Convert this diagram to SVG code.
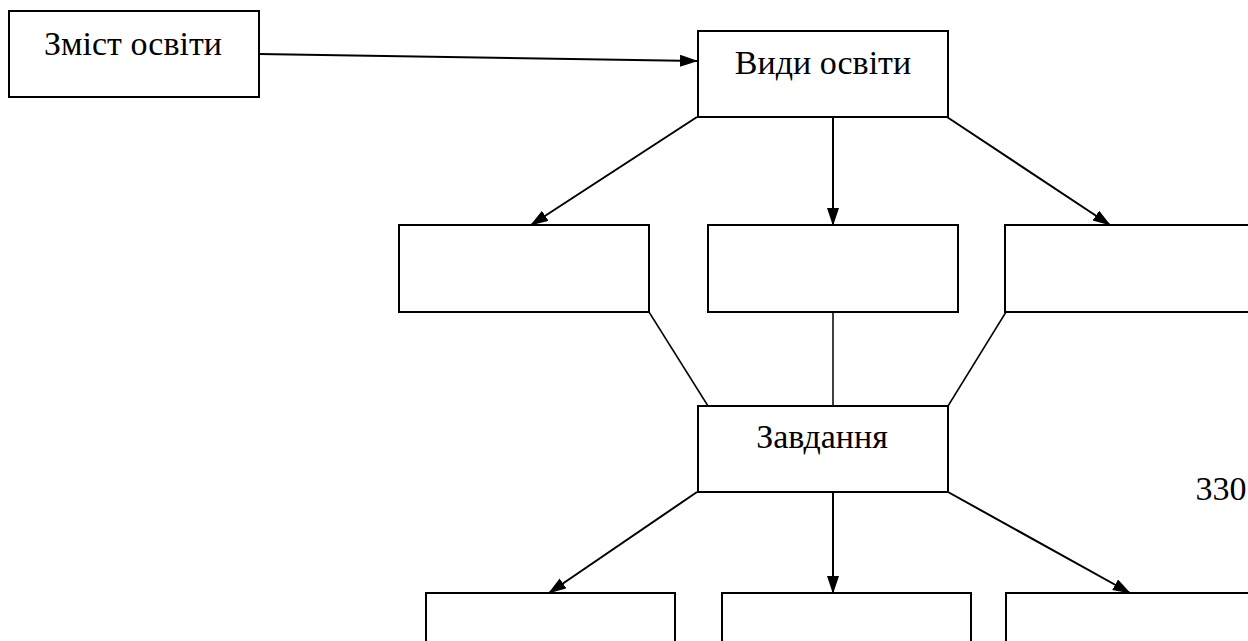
<svg xmlns="http://www.w3.org/2000/svg" width="1248" height="641" viewBox="0 0 1248 641">
<style>
.box{fill:#fff;stroke:#000;stroke-width:2}
.lbl{font-family:'Liberation Serif','Times New Roman',serif;font-size:34px;fill:#000;text-anchor:middle}
.arr{stroke:#000;stroke-width:2;fill:none;marker-end:url(#ah)}
.ln{stroke:#000;stroke-width:1.5;fill:none}
</style>
<defs>
<marker id="ah" markerUnits="userSpaceOnUse" markerWidth="20" markerHeight="14" refX="17" refY="6" orient="auto">
<path d="M0,0 L18,6 L0,12 z" fill="#000"/>
</marker>
</defs>
<rect width="1248" height="641" fill="#fff"/>
<g id="connectors">
<line class="arr" x1="259" y1="54" x2="697" y2="61"/>
<line class="arr" x1="697" y1="117" x2="531" y2="225"/>
<line class="arr" x1="833" y1="117" x2="833" y2="225"/>
<line class="arr" x1="947" y1="117" x2="1110" y2="225"/>
<line class="ln" x1="649" y1="312" x2="708" y2="406"/>
<line class="ln" x1="833" y1="312" x2="833" y2="406"/>
<line class="ln" x1="1006" y1="312" x2="948" y2="406"/>
<line class="arr" x1="697" y1="492" x2="549" y2="593"/>
<line class="arr" x1="833" y1="492" x2="833" y2="593"/>
<line class="arr" x1="948" y1="492" x2="1130" y2="593"/>
</g>
<g id="zmist">
<rect class="box" x="9" y="11" width="250" height="86"/>
<text class="lbl" x="133" y="55">Зміст освіти</text>
</g>
<g id="vydy">
<rect class="box" x="698" y="31" width="250" height="86"/>
<text class="lbl" x="823" y="74">Види освіти</text>
</g>
<g id="mid1"><rect class="box" x="399" y="225" width="250" height="87"/></g>
<g id="mid2"><rect class="box" x="708" y="225" width="250" height="87"/></g>
<g id="mid3"><rect class="box" x="1005" y="225" width="260" height="87"/></g>
<g id="zavdannya">
<rect class="box" x="698" y="406" width="250" height="86"/>
<text class="lbl" x="822" y="448">Завдання</text>
</g>
<g id="bot1"><rect class="box" x="426" y="593" width="249" height="70"/></g>
<g id="bot2"><rect class="box" x="722" y="593" width="249" height="70"/></g>
<g id="bot3"><rect class="box" x="1006" y="593" width="260" height="70"/></g>
<text class="lbl" x="1221" y="500">330</text>
</svg>
